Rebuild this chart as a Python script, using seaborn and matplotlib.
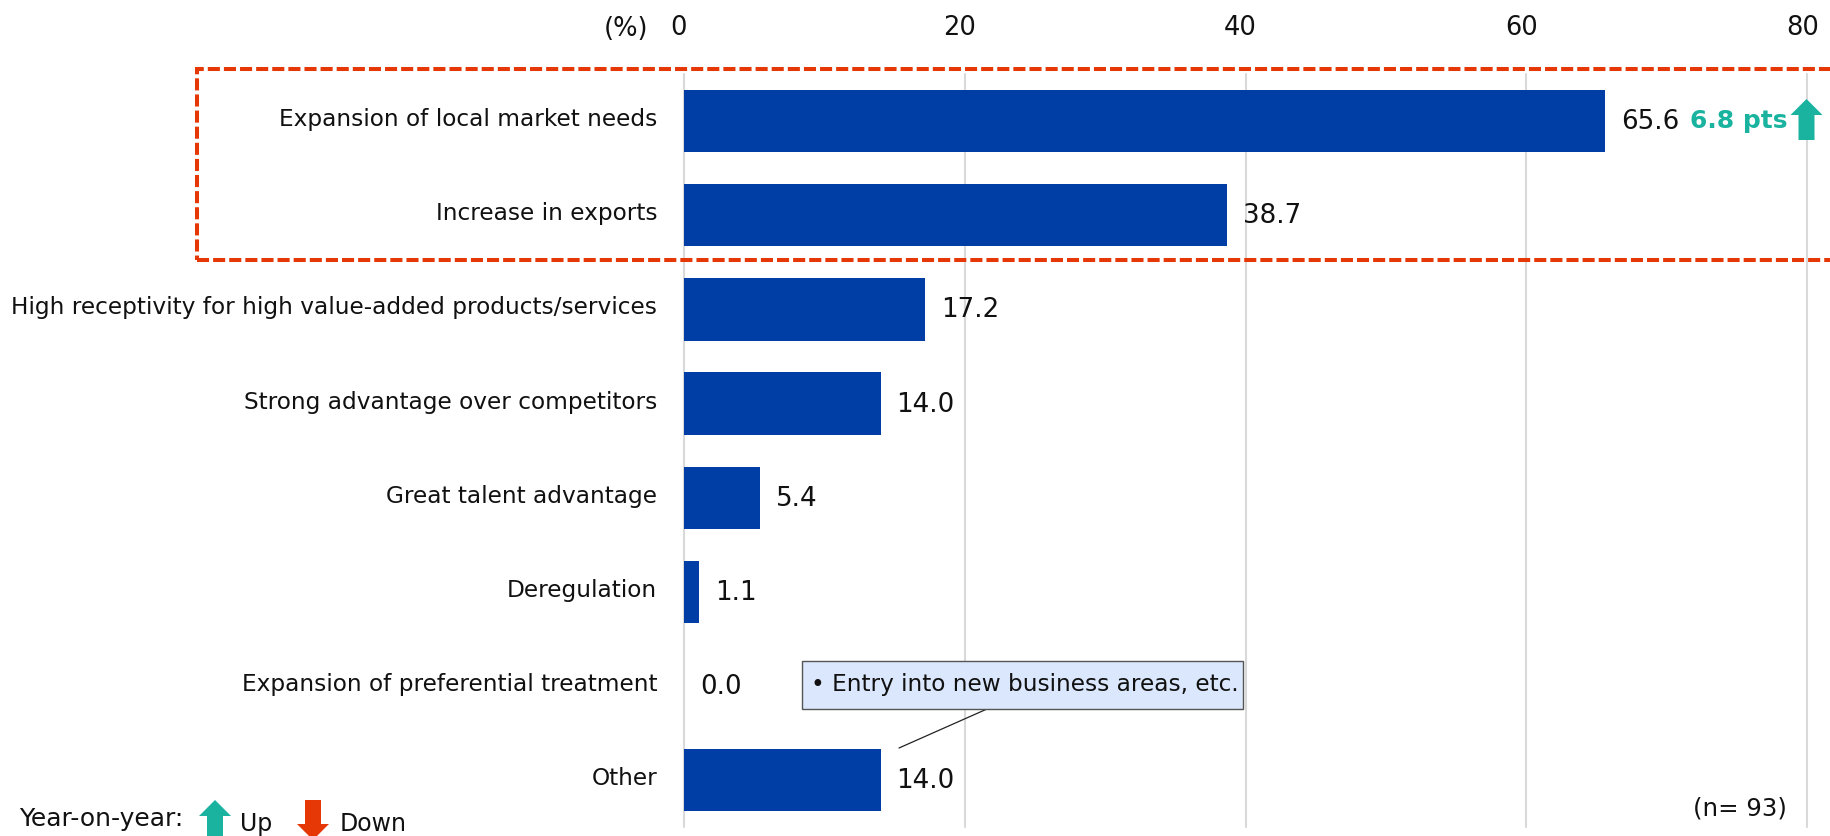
import matplotlib
matplotlib.use("Agg")
from matplotlib import pyplot as plt
from matplotlib.patches import Polygon, Rectangle
from matplotlib.lines import Line2D
from matplotlib.transforms import ScaledTranslation
import seaborn as sns
import pandas as pd

categories = ["Expansion of local market needs", "Increase in exports",
              "High receptivity for high value-added products/services",
              "Strong advantage over competitors", "Great talent advantage",
              "Deregulation", "Expansion of preferential treatment", "Other"]
values = [65.6, 38.7, 17.2, 14.0, 5.4, 1.1, 0.0, 14.0]
x_ticks = [0, 20, 40, 60, 80]

W, H = 1830, 837
BLUE = "#003DA5"
TEAL = "#1AB39F"
RED = "#E63706"
TEXT = "#111111"

sns.set_style("white")
plt.rcParams["font.family"] = ["DejaVu Sans"]

fig = plt.figure(figsize=(W / 100, H / 100), dpi=100)
# axes placed by pixel, top left origin
ax = fig.add_axes([684 / W, 1 - 827.7 / H, (W - 684) / W, (827.7 - 75.4) / H])


def fx(px):
	return px / W


def fy(py):
	return 1 - py / H


def ftext(px, py, s, **kw):
	kw.setdefault("color", TEXT)
	kw.setdefault("va", "center")
	return fig.text(fx(px), fy(py), s, **kw)


df = pd.DataFrame({"category": categories, "value": values})
sns.barplot(data=df, x="value", y="category", orient="h", color=BLUE, saturation=1,
	width=0.66, linewidth=0, ax=ax, zorder=3)

ax.set_xlim(0, (W - 684) / 14.04)
ax.set_ylim(7.5, -0.5)
ax.set_xlabel("")
ax.set_ylabel("")
sns.despine(ax=ax, left=True, bottom=True, top=True, right=True)
ax.set_xticks(x_ticks)
ax.xaxis.tick_top()
ax.grid(axis="x", color="#D9D9D9", lw=1.5, zorder=0)
ax.grid(axis="y", visible=False)
for line in ax.get_xgridlines():
	line.set_clip_on(False)
ax.tick_params(axis="x", length=0, pad=24.5, labelsize=18.5, labelcolor=TEXT)
ax.tick_params(axis="y", length=0, pad=19.4, labelsize=16.75, labelcolor=TEXT)
for lab in ax.get_xticklabels():
	lab.set_transform(lab.get_transform() + ScaledTranslation(-5 / 100, 0, fig.dpi_scale_trans))
for lab in ax.get_yticklabels():
	lab.set_transform(lab.get_transform() + ScaledTranslation(0, 5 / 100, fig.dpi_scale_trans))

ax.bar_label(ax.containers[0], fmt="%.1f", padding=11.5, fontsize=18.8, color=TEXT)

ftext(625.7, 29, "(%)", ha="center", fontsize=18.5)
ftext(1690, 121, "6.8 pts", color=TEAL, fontweight="bold", fontsize=18)
ftext(1787, 809, "(n= 93)", ha="right", fontsize=17.6)
ftext(19, 819, "Year-on-year:", fontsize=18)
ftext(240, 824, "Up", fontsize=17)
ftext(340, 824, "Down", fontsize=17)


def arrow(cx, tip, base, color, up=True):
	# block arrow, pixel coordinates
	sign = 1 if up else -1
	neck = tip + sign * 16
	pts = [(cx, tip), (cx + 16, neck), (cx + 8, neck), (cx + 8, base),
		(cx - 8, base), (cx - 8, neck), (cx - 16, neck)]
	fig.add_artist(Polygon([(fx(a), fy(b)) for a, b in pts], closed=True, transform=fig.transFigure,
		facecolor=color, edgecolor="none", zorder=6))


arrow(1806.5, 100, 141, TEAL)
arrow(215, 801, 860, TEAL)
arrow(313, 841, 801, RED, up=False)

# dashed highlight box runs off the right edge
box = Rectangle((fx(197), fy(260.7)), fx(1700), 190.7 / H, transform=fig.transFigure,
	fill=False, edgecolor=RED, lw=2.9, linestyle=(0, (3, 1)), zorder=5)
box.set_capstyle("butt")
fig.add_artist(box)

# callout
fig.add_artist(Line2D([fx(987), fx(899)], [fy(710), fy(749)], transform=fig.transFigure,
	color="#222222", lw=0.9, zorder=6))
fig.add_artist(Rectangle((fx(802), fy(710)), 441 / W, 48 / H, transform=fig.transFigure,
	facecolor="#DAE7FC", edgecolor="#555555", lw=1.0, zorder=6))
ftext(811, 685, "\u2022 Entry into new business areas, etc.", fontsize=16.7, zorder=7)

fig.savefig("out.png", dpi=100)
